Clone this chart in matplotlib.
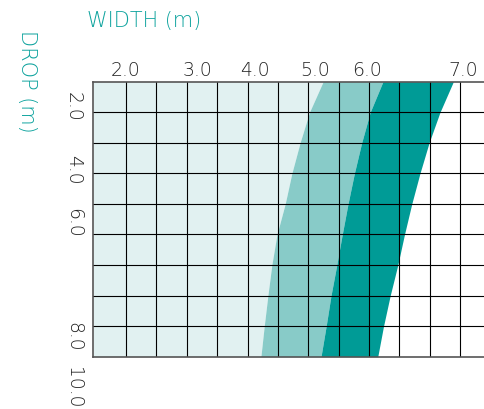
import matplotlib.pyplot as plt
import numpy as np

# grid in column / row units (first column is a bit wider)
col_edges = [0.0] + [1.08 + k for k in range(12)]
row_edges = list(range(10))

# band boundaries, one value per row line (top to bottom)
rows = [0, 1, 2, 3, 4, 5, 6, 7, 8, 9]
edge_light = [7.57, 7.12, 6.81, 6.54, 6.32, 6.05, 5.88, 5.75, 5.63, 5.52]
edge_mid = [9.54, 9.12, 8.84, 8.60, 8.39, 8.20, 8.02, 7.83, 7.67, 7.50]
edge_dark = [11.86, 11.42, 11.06, 10.76, 10.49, 10.25, 10.03, 9.78, 9.56, 9.37]

# axis labels and where they sit
width_labels = ['2.0', '3.0', '4.0', '5.0', '6.0', '7.0']
width_pos = [1.07, 3.43, 5.33, 7.30, 9.01, 12.17]
drop_labels = ['2.0', '4.0', '6.0', '8.0', '10.0']
drop_pos = [0.82, 2.89, 4.62, 8.34, 10.02]

c_light = '#e1f1f1'
c_mid = '#88cbc8'
c_dark = '#009b96'
c_title = '#0ea39e'

xmax = 12.87

fig = plt.figure(figsize=(4.84, 4.09), dpi=100)
ax = fig.add_axes([0.1928, 0.1279, 0.8072, 0.6724])

zero = np.zeros(len(rows))
ax.fill_betweenx(rows, zero, edge_light, color=c_light, lw=0)
ax.fill_betweenx(rows, edge_light, edge_mid, color=c_mid, lw=0)
ax.fill_betweenx(rows, edge_mid, edge_dark, color=c_dark, lw=0)

for x in col_edges[1:]:
    ax.axvline(x, color='black', lw=0.8)
for y in row_edges[1:-1]:
    ax.axhline(y, color='black', lw=0.8)

ax.set_xlim(0, xmax)
ax.set_ylim(9, 0)
ax.set_xticks([])
ax.set_yticks([])
for side in ['left', 'top', 'bottom']:
    ax.spines[side].set_color('#555555')
    ax.spines[side].set_linewidth(1.2)
ax.spines['right'].set_visible(False)

font = ['DejaVu Sans']
for lab, x in zip(width_labels, width_pos):
    ax.text(x, -0.37, lab, ha='center', va='center', fontsize=13.5,
            family=font, weight='light', color='#222222', clip_on=False)
for lab, y in zip(drop_labels, drop_pos):
    ax.text(-0.66, y, lab, ha='center', va='center', fontsize=13.5,
            family=font, weight='light', color='#222222', rotation=-90,
            clip_on=False)

fig.text(144.5 / 484, 1 - 21 / 409, 'WIDTH (m)', ha='center', va='center',
         fontsize=15, family=font, weight='light', color=c_title)
fig.text(26.5 / 484, 1 - 81 / 409, 'DROP (m)', ha='center', va='center',
         fontsize=15, family=font, weight='light', color=c_title,
         rotation=-90)

fig.savefig('out.png', dpi=100)
